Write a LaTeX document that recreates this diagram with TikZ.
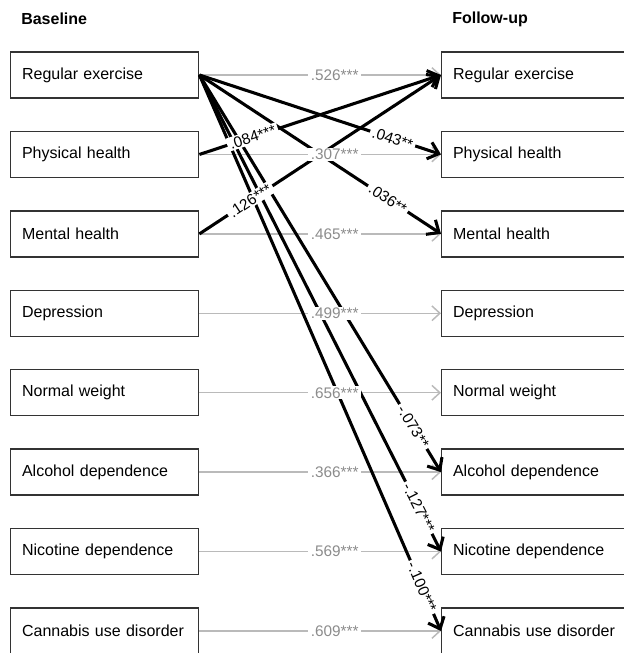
\documentclass[tikz,border=0pt]{standalone}
\usepackage{fontspec}
\setmainfont{Liberation Sans}
\usetikzlibrary{arrows.meta}
\begin{document}
\begin{tikzpicture}[x=0.75pt,y=-0.75pt,
  box/.style={draw=black!80, line width=1.1pt, anchor=west, minimum height=34.5pt, text width=124pt, inner xsep=8.5pt, align=left, font=\fontsize{12}{14}\selectfont},
  hdr/.style={anchor=west, font=\bfseries\fontsize{12}{14}\selectfont, inner sep=0pt},
  gpath/.style={draw=black!27, line width=1.1pt, -{Straight Barb[length=6pt,width=11pt]}},
  bpath/.style={draw=black, line width=2.3pt, -{Straight Barb[length=7.5pt,width=13pt]}},
  glab/.style={fill=white, inner xsep=2pt, inner ysep=1pt, text=black!45, font=\fontsize{11.5}{13}\selectfont},
  blab/.style={fill=white, inner xsep=2pt, inner ysep=1pt, sloped, font=\fontsize{11.5}{13}\selectfont},
]
\useasboundingbox (0,0) rectangle (624,653);
\clip (0,0) rectangle (624,653);

\node[hdr] (hb) at (21,19) {Baseline};
\node[hdr] (hf) at (452,19) {Follow-up};

\foreach \i/\t in {1/Regular exercise,2/Physical health,3/Mental health,4/Depression,5/Normal weight,6/Alcohol dependence,7/Nicotine dependence,8/Cannabis use disorder}{
  \node[box] (l\i) at (10,{75+79.43*(\i-1)}) {\t};
  \node[box] (r\i) at (441,{75+79.43*(\i-1)}) {\t};
}

% lines
\foreach \i in {1,...,8}{
  \draw[gpath] (l\i.east) -- (r\i.west);
}
\draw[bpath] (l2.east) -- (r1.west);
\draw[bpath] (l3.east) -- (r1.west);
\draw[bpath] (l1.east) -- (r2.west);
\draw[bpath] (l1.east) -- (r3.west);
\draw[bpath] (l1.east) -- (r6.west);
\draw[bpath] (l1.east) -- (r7.west);
\draw[bpath] (l1.east) -- (r8.west);

% labels
\foreach \i/\v in {1/.526,2/.307,3/.465,4/.499,5/.656,6/.366,7/.569,8/.609}{
  \path (l\i.east) -- node[glab, pos=0.56] (g\i) {\v***} (r\i.west);
}
\path (l2.east) -- node[blab, pos=0.22] (b21) {.084***} (r1.west);
\path (l3.east) -- node[blab, pos=0.21] (b31) {.126***} (r1.west);
\path (l1.east) -- node[blab, pos=0.80] (b12) {.043**} (r2.west);
\path (l1.east) -- node[blab, pos=0.78] (b13) {.036**} (r3.west);
\path (l1.east) -- node[blab, pos=0.885] (b16) {-.073**} (r6.west);
\path (l1.east) -- node[blab, pos=0.908] (b17) {-.127***} (r7.west);
\path (l1.east) -- node[blab, pos=0.921] (b18) {-.100***} (r8.west);
\end{tikzpicture}
\end{document}
